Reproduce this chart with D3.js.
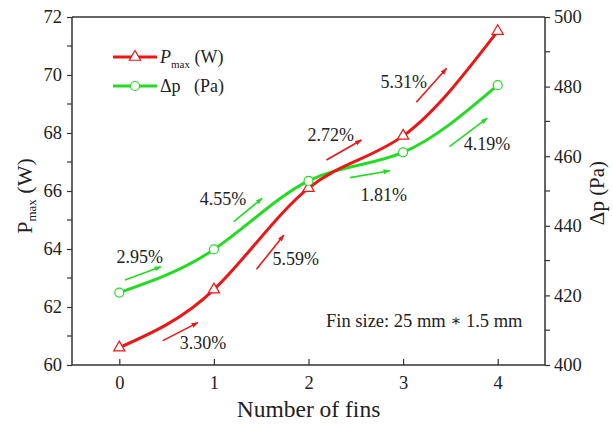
<!DOCTYPE html>
<html>
<head>
<meta charset="utf-8">
<script src="https://cdn.jsdelivr.net/npm/d3@7"></script>
<style>
  html, body { margin: 0; padding: 0; background: #fff; }
  svg text { font-family: "Liberation Serif", "Times New Roman", Tinos, "DejaVu Serif", serif; fill: #222; }
</style>
</head>
<body>
<svg id="chart" width="613" height="425"></svg>
<script>
// Number of fins on the x axis
const fins = [0, 1, 2, 3, 4];
// Maximum output power (W), left axis
const pmax = [60.6, 62.6, 66.1, 67.9, 71.51];
// Pressure drop (Pa), right axis
const dp = [420.8, 433.2, 452.9, 461.1, 480.4];

const leftTicks = [60, 62, 64, 66, 68, 70, 72];
const rightTicks = [400, 420, 440, 460, 480, 500];

// Step-to-step growth labels with their arrows, in data units (fins, W)
const pmaxGrowth = ["3.30%", "5.59%", "2.72%", "5.31%"];
const pmaxArrows = [[0.46, 60.84, 0.83, 61.46], [1.45, 63.30, 1.74, 64.48], [2.19, 67.07, 2.56, 67.76], [3.14, 69.06, 3.46, 70.23]];
const pmaxLabelPos = [[0.64, 60.55], [1.62, 63.45], [1.99, 67.72], [2.76, 69.55]];
const dpGrowth = ["2.95%", "4.55%", "1.81%", "4.19%"];
const dpArrows = [[0.06, 62.93, 0.44, 63.39], [1.21, 64.94, 1.51, 65.75], [2.44, 66.46, 2.86, 66.70], [3.49, 67.53, 3.89, 68.51]];
const dpLabelPos = [[-0.03, 63.52], [0.85, 65.52], [2.55, 65.66], [3.64, 67.41]];

const RED = "#ee1515";
const GREEN = "#22dc22";
const AXIS = "#333";
const SERIF = '"Liberation Serif", "Times New Roman", Tinos, "DejaVu Serif", serif';

const svg = d3.select("#chart");
const m = { left: 72, right: 68, top: 17, bottom: 60 };
const W = 613, H = 425;
const x0 = m.left, x1 = W - m.right, y0 = H - m.bottom, y1 = m.top;

const x = d3.scaleLinear().domain([-0.5, 4.5]).range([x0, x1]);
const yL = d3.scaleLinear().domain([60, 72]).range([y0, y1]);
const yR = d3.scaleLinear().domain([400, 500]).range([y0, y1]);

// Arrowhead markers
const defs = svg.append("defs");
[["arrRed", RED], ["arrGreen", GREEN]].forEach(([id, c]) => {
  defs.append("marker").attr("id", id)
    .attr("viewBox", "0 0 10 10").attr("refX", 9).attr("refY", 5)
    .attr("markerWidth", 7).attr("markerHeight", 7).attr("orient", "auto")
    .attr("markerUnits", "userSpaceOnUse")
    .append("path").attr("d", "M0,1.5 L10,5 L0,8.5 Z").attr("fill", c);
});

// Frame: top border
svg.append("line").attr("x1", x0).attr("x2", x1).attr("y1", y1).attr("y2", y1)
  .attr("stroke", AXIS).attr("stroke-width", 1.5);

// Bottom axis (ticks inward)
const gx = svg.append("g").attr("transform", `translate(0,${y0})`)
  .call(d3.axisBottom(x).tickValues(fins).tickFormat(d3.format("d")).tickSizeInner(-6).tickSizeOuter(0).tickPadding(11));
// Left axis (ticks outward) with minor ticks
const gl = svg.append("g").attr("transform", `translate(${x0},0)`)
  .call(d3.axisLeft(yL).tickValues(leftTicks).tickFormat(d3.format("d")).tickSize(5).tickPadding(5));
gl.selectAll(".minor").data(d3.range(61, 72, 2)).enter().append("line")
  .attr("x1", 0).attr("x2", -5).attr("y1", d => yL(d)).attr("y2", d => yL(d))
  .attr("stroke", AXIS).attr("stroke-width", 1.2);
// Right axis (ticks outward) with minor ticks
const gr = svg.append("g").attr("transform", `translate(${x1},0)`)
  .call(d3.axisRight(yR).tickValues(rightTicks).tickFormat(d3.format("d")).tickSize(5).tickPadding(4));
gr.selectAll(".minor").data(d3.range(410, 500, 20)).enter().append("line")
  .attr("x1", 0).attr("x2", 5).attr("y1", d => yR(d)).attr("y2", d => yR(d))
  .attr("stroke", AXIS).attr("stroke-width", 1.2);

[gx, gl, gr].forEach(g => {
  g.attr("font-family", null);
  g.select(".domain").attr("stroke", AXIS).attr("stroke-width", 1.5);
  g.selectAll(".tick line").attr("stroke", AXIS).attr("stroke-width", 1.2);
  g.selectAll(".tick text").style("font-family", SERIF)
    .style("font-size", "18.5px").attr("fill", "#222");
});
gr.select(".domain").attr("d", `M0,${y0}V${y1}`);
gl.select(".domain").attr("d", `M0,${y0}V${y1}`);
gx.select(".domain").attr("d", `M${x0},0H${x1}`);

// Axis titles
svg.append("text").attr("x", (x0 + x1) / 2).attr("y", 417).attr("text-anchor", "middle")
  .style("font-size", "23.5px").text("Number of fins");

const lt = svg.append("text").attr("transform", `translate(32,${196}) rotate(-90)`)
  .attr("text-anchor", "middle").style("font-size", "22px");
lt.append("tspan").text("P");
lt.append("tspan").attr("dy", 4).style("font-size", "13px").text("max");
lt.append("tspan").attr("dy", -4).text(" (W)");

svg.append("text").attr("transform", `translate(604,${193}) rotate(-90)`)
  .attr("text-anchor", "middle").style("font-size", "21px").text("Δp (Pa)");

// Curves
const lineL = d3.line().x((d, i) => x(fins[i])).y(d => yL(d)).curve(d3.curveNatural);
const lineR = d3.line().x((d, i) => x(fins[i])).y(d => yR(d)).curve(d3.curveNatural);

svg.append("path").attr("d", lineR(dp)).attr("fill", "none")
  .attr("stroke", GREEN).attr("stroke-width", 3);
svg.append("path").attr("d", lineL(pmax)).attr("fill", "none")
  .attr("stroke", RED).attr("stroke-width", 3);

// Markers
const tri = d3.symbol().type(d3.symbolTriangle).size(55);
svg.append("g").selectAll("path").data(pmax).enter().append("path")
  .attr("d", tri).attr("transform", (d, i) => `translate(${x(fins[i])},${yL(d)})`)
  .attr("fill", "#fff").attr("stroke", RED).attr("stroke-width", 1.2);
svg.append("g").selectAll("circle").data(dp).enter().append("circle")
  .attr("cx", (d, i) => x(fins[i])).attr("cy", d => yR(d)).attr("r", 4.5)
  .attr("fill", "#fff").attr("stroke", GREEN).attr("stroke-width", 1.2);

// Growth annotations
function annotate(labels, arrows, pos, color, markerId) {
  const g = svg.append("g");
  g.selectAll("line").data(arrows).enter().append("line")
    .attr("x1", d => x(d[0])).attr("y1", d => yL(d[1]))
    .attr("x2", d => x(d[2])).attr("y2", d => yL(d[3]))
    .attr("stroke", color).attr("stroke-width", 1.6)
    .attr("marker-end", `url(#${markerId})`);
  g.selectAll("text").data(labels).enter().append("text")
    .attr("x", (d, i) => x(pos[i][0])).attr("y", (d, i) => yL(pos[i][1]))
    .style("font-size", "18px").text(d => d);
}
annotate(pmaxGrowth, pmaxArrows, pmaxLabelPos, RED, "arrRed");
annotate(dpGrowth, dpArrows, dpLabelPos, GREEN, "arrGreen");

// Note
const note = svg.append("text").attr("x", 326).attr("y", 327).style("font-size", "18.5px");
note.append("tspan").text("Fin size: 25 mm ");
note.append("tspan").style("font-size", "16px").attr("dy", -1).text("∗");
note.append("tspan").attr("dy", 1).text(" 1.5 mm");

// Legend
const legend = [
  { color: RED, kind: "tri" },
  { color: GREEN, kind: "circ" }
];
const lg = svg.append("g");
legend.forEach((d, i) => {
  const yy = 57 + i * 29;
  lg.append("line").attr("x1", 113).attr("x2", 157).attr("y1", yy).attr("y2", yy)
    .attr("stroke", d.color).attr("stroke-width", 3);
  if (d.kind === "tri") {
    lg.append("path").attr("d", tri).attr("transform", `translate(135,${yy})`)
      .attr("fill", "#fff").attr("stroke", d.color).attr("stroke-width", 1.2);
  } else {
    lg.append("circle").attr("cx", 135).attr("cy", yy).attr("r", 4.5)
      .attr("fill", "#fff").attr("stroke", d.color).attr("stroke-width", 1.2);
  }
});
const l1 = lg.append("text").attr("x", 160).attr("y", 63).style("font-size", "18px");
l1.append("tspan").style("font-style", "italic").text("P");
l1.append("tspan").attr("dy", 5).style("font-size", "11px").text("max");
l1.append("tspan").attr("dy", -5).text(" (W)");
lg.append("text").attr("x", 160).attr("y", 92).style("font-size", "18px")
  .attr("xml:space", "preserve").text("Δp   (Pa)");
</script>
</body>
</html>
